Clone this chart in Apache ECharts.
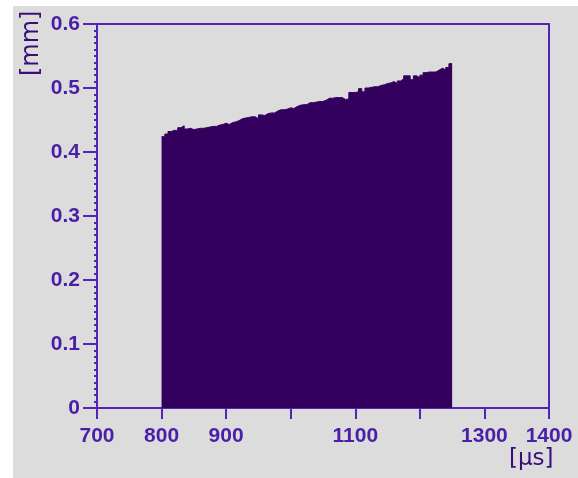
<!DOCTYPE html>
<html>
<head>
<meta charset="utf-8">
<script src="https://cdn.jsdelivr.net/npm/echarts@6/dist/echarts.min.js"></script>
<style>
html,body{margin:0;padding:0;background:#ffffff;width:578px;height:478px;overflow:hidden;}
#bg{position:absolute;left:13px;top:6px;width:565px;height:472px;background:#dcdcdc;}
#chart{position:absolute;left:0;top:0;width:578px;height:478px;}
</style>
</head>
<body>
<div id="bg"></div>
<div id="chart"></div>
<script>
// Histogram: bin start (µs) and bar height (mm), bin width 5 µs
var binStartFirst = 800;
var binWidth = 5;
var heights = [
  0.424,0.428,0.432,0.434,0.433,0.438,0.441,0.436,0.437,0.435,
  0.436,0.437,0.437,0.438,0.439,0.440,0.440,0.442,0.443,0.445,
  0.443,0.446,0.447,0.449,0.452,0.453,0.454,0.455,0.455,0.452,
  0.458,0.457,0.460,0.461,0.461,0.464,0.466,0.466,0.467,0.469,
  0.468,0.471,0.473,0.474,0.474,0.477,0.477,0.478,0.479,0.479,
  0.481,0.484,0.484,0.485,0.485,0.485,0.482,0.483,0.493,0.493,
  0.494,0.499,0.494,0.500,0.501,0.502,0.502,0.504,0.505,0.507,
  0.508,0.510,0.507,0.511,0.514,0.519,0.519,0.513,0.519,0.516,
  0.520,0.524,0.525,0.525,0.525,0.528,0.531,0.528,0.532,0.538
];
var xTicks = [700, 800, 900, 1000, 1100, 1200, 1300, 1400];
var xHiddenLabels = [1000, 1200];
var yTicks = [0, 0.1, 0.2, 0.3, 0.4, 0.5, 0.6];
var xTitle = '[μs]';
var yTitle = '[mm]';

var stepData = heights.map(function (h, i) { return [binStartFirst + i * binWidth, h]; });
stepData.push([binStartFirst + heights.length * binWidth, heights[heights.length - 1]]);

var axisCol = '#5424b4';
var labelCol = '#4a1fa8';
var fillCol = '#33005e';
var titleCol = '#3a0e78';

var chart = echarts.init(document.getElementById('chart'), null, {renderer: 'canvas'});
chart.setOption({
  backgroundColor: 'transparent',
  animation: false,
  grid: {left: 97, top: 24, right: 29, bottom: 70, show: true, borderColor: axisCol, borderWidth: 2, backgroundColor: 'transparent'},
  xAxis: {
    type: 'value', min: xTicks[0], max: xTicks[xTicks.length - 1], interval: 100,
    axisLine: {show: true, onZero: false, lineStyle: {color: axisCol, width: 2}},
    axisTick: {show: true, inside: false, length: 11, lineStyle: {color: axisCol, width: 2}},
    splitLine: {show: false},
    axisLabel: {
      color: labelCol, fontWeight: 'bold', fontSize: 21, fontFamily: 'Liberation Sans, Arial, sans-serif', margin: 18,
      showMinLabel: true, showMaxLabel: true, hideOverlap: false,
      formatter: function (v) { return xHiddenLabels.indexOf(v) >= 0 ? '' : String(v); }
    }
  },
  yAxis: {
    type: 'value', min: yTicks[0], max: yTicks[yTicks.length - 1], interval: 0.1,
    axisLine: {show: true, onZero: false, lineStyle: {color: axisCol, width: 2}},
    axisTick: {show: true, inside: false, length: 14, lineStyle: {color: axisCol, width: 2}},
    minorTick: {show: true, splitNumber: 10, length: 3, lineStyle: {color: axisCol, width: 2}},
    splitLine: {show: false},
    axisLabel: {
      color: labelCol, fontWeight: 'bold', fontSize: 21, fontFamily: 'Liberation Sans, Arial, sans-serif', margin: 17,
      formatter: function (v) { return String(Math.round(v * 10) / 10); }
    }
  },
  series: [{
    type: 'line', step: 'end', data: stepData, symbol: 'none',
    lineStyle: {color: fillCol, width: 1},
    areaStyle: {color: fillCol, opacity: 1, origin: 'start'},
    z: 1
  }],
  graphic: [
    {type: 'text', rotation: Math.PI / 2, style: {text: yTitle, fill: titleCol, font: '24px "DejaVu Sans", sans-serif'},
     x: 20, y: 76},
    {type: 'text', x: 509, y: 448, style: {text: xTitle, fill: titleCol, font: '23px "DejaVu Sans", sans-serif'}}
  ]
});
</script>
</body>
</html>
